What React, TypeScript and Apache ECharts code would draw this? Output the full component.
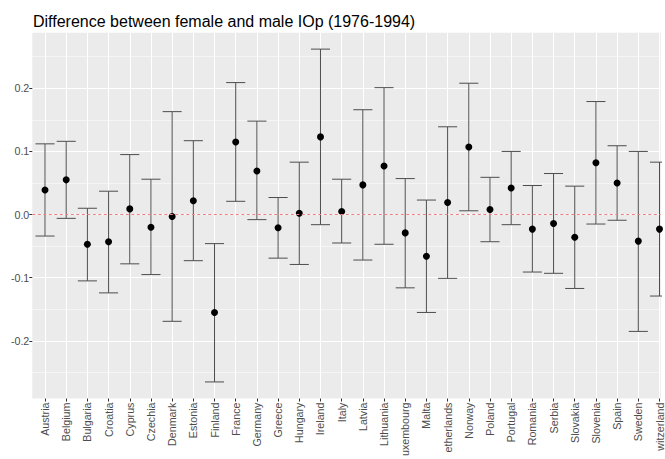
import React, { useEffect, useRef } from 'react';
import * as echarts from 'echarts';

const countries = ['Austria', 'Belgium', 'Bulgaria', 'Croatia', 'Cyprus', 'Czechia', 'Denmark', 'Estonia', 'Finland', 'France', 'Germany', 'Greece', 'Hungary', 'Ireland', 'Italy', 'Latvia', 'Lithuania', 'Luxembourg', 'Malta', 'Netherlands', 'Norway', 'Poland', 'Portugal', 'Romania', 'Serbia', 'Slovakia', 'Slovenia', 'Spain', 'Sweden', 'Switzerland'];
const estimates = [0.039, 0.055, -0.047, -0.043, 0.009, -0.020, -0.003, 0.022, -0.155, 0.115, 0.069, -0.021, 0.002, 0.123, 0.005, 0.047, 0.077, -0.029, -0.066, 0.019, 0.107, 0.008, 0.042, -0.023, -0.014, -0.036, 0.082, 0.050, -0.042, -0.023];
const lower = [-0.034, -0.006, -0.105, -0.124, -0.078, -0.095, -0.169, -0.073, -0.265, 0.021, -0.008, -0.069, -0.079, -0.016, -0.045, -0.072, -0.047, -0.116, -0.155, -0.101, 0.006, -0.043, -0.016, -0.091, -0.093, -0.117, -0.015, -0.009, -0.185, -0.129];
const upper = [0.112, 0.116, 0.010, 0.037, 0.095, 0.056, 0.163, 0.117, -0.046, 0.209, 0.148, 0.027, 0.083, 0.262, 0.056, 0.166, 0.201, 0.057, 0.023, 0.139, 0.208, 0.059, 0.100, 0.046, 0.065, 0.045, 0.179, 0.109, 0.100, 0.083];
const yTicks = [-0.2, -0.1, 0, 0.1, 0.2];
const yMinor = [-0.25, -0.15, -0.05, 0.05, 0.15, 0.25];
const titleText = 'Difference between female and male IOp (1976-1994)';

const FONT = '"Liberation Sans", Arial, sans-serif';
const LABEL_SIZE = 10.7;

// layout (pixels)
const W = 665;
const H = 459;
const GRID_LEFT = 32.3;
const GRID_TOP = 32.7;
const GRID_H = 366.6;
const UNIT_PX = 21.331; // one category step
const X_MIN = -0.6;
const LABEL_MARGIN = 4;
const TICK_LEN = 3;

let measureCtx: CanvasRenderingContext2D | null = null;
function textWidth(s: string): number {
  if (!measureCtx) {
    const c = document.createElement('canvas');
    measureCtx = c.getContext('2d');
  }
  if (!measureCtx) return s.length * LABEL_SIZE * 0.55;
  measureCtx.font = `${LABEL_SIZE}px "Liberation Sans", Arial, sans-serif`;
  return measureCtx.measureText(s).width;
}

// the page edge cuts off the start of long rotated labels (as in the original picture)
function fitLabel(name: string): string {
  const avail = H - (GRID_TOP + GRID_H + LABEL_MARGIN) - 1;
  let s = name;
  while (s.length > 1 && textWidth(s) > avail) s = s.slice(1);
  return s;
}

export default function App() {
  const ref = useRef<HTMLDivElement>(null);
  useEffect(() => {
    if (!ref.current) return;
    document.body.style.margin = '0';
    document.body.style.overflow = 'hidden';
    const chart = echarts.init(ref.current, null, { renderer: 'svg' });
    const idx = countries.map((_, i) => i);
    const gridW = W - GRID_LEFT;
    const xMax = X_MIN + gridW / UNIT_PX;
    const yMin = -0.2913;
    const yMax = 0.288;
    chart.setOption({
      animation: false,
      backgroundColor: '#FFFFFF',
      title: {
        text: titleText,
        left: 33,
        top: 13,
        padding: 0,
        textStyle: { fontSize: 16, fontWeight: 'normal', color: '#000000', fontFamily: FONT },
      },
      grid: {
        left: GRID_LEFT,
        top: GRID_TOP,
        width: gridW,
        height: GRID_H,
        show: true,
        backgroundColor: '#EBEBEB',
        borderWidth: 0,
        containLabel: false,
      },
      xAxis: {
        type: 'value',
        min: X_MIN,
        max: xMax,
        axisLine: { show: false, onZero: false },
        axisTick: { show: true, customValues: idx, length: TICK_LEN, lineStyle: { color: '#333333', width: 1 } },
        axisLabel: {
          customValues: idx,
          rotate: 90,
          margin: LABEL_MARGIN,
          color: '#4D4D4D',
          fontSize: LABEL_SIZE,
          fontFamily: FONT,
          formatter: (v: number) => fitLabel(countries[Math.round(v)] ?? ''),
        },
        splitLine: { show: true, lineStyle: { color: '#FFFFFF', width: 1.07 } },
      },
      yAxis: [
        {
          type: 'value',
          min: yMin,
          max: yMax,
          axisLine: { show: false, onZero: false },
          axisTick: { show: true, customValues: yTicks, length: TICK_LEN, lineStyle: { color: '#333333', width: 1 } },
          axisLabel: {
            customValues: yTicks,
            margin: 3,
            color: '#4D4D4D',
            fontSize: LABEL_SIZE,
            fontFamily: FONT,
            formatter: (v: number) => v.toFixed(1),
          },
          splitLine: { show: true, lineStyle: { color: '#FFFFFF', width: 1.07 } },
        },
        {
          type: 'value',
          min: yMin,
          max: yMax,
          position: 'left',
          axisLine: { show: false, onZero: false },
          axisTick: { show: false, customValues: yMinor },
          axisLabel: { show: false, customValues: yMinor },
          splitLine: { show: true, lineStyle: { color: '#FFFFFF', width: 0.53 } },
        },
      ],
      series: [
        {
          type: 'scatter',
          xAxisIndex: 0,
          yAxisIndex: 0,
          z: 1,
          symbolSize: 0,
          data: [],
          markLine: {
            silent: true,
            symbol: 'none',
            animation: false,
            label: { show: false },
            lineStyle: { color: '#F28080', type: [3, 2.5], width: 1, opacity: 1 },
            emphasis: { disabled: true },
            data: [{ yAxis: 0 }],
          },
        },
        {
          type: 'custom',
          xAxisIndex: 0,
          yAxisIndex: 0,
          clip: true,
          data: idx.map((i) => [i, lower[i], upper[i]]),
          encode: { x: 0, y: [1, 2] },
          z: 2,
          renderItem: (params: any, api: any) => {
            const x = api.value(0);
            const lo = api.coord([x, api.value(1)]);
            const hi = api.coord([x, api.value(2)]);
            const hw = api.size([0.9, 0])[0] / 2;
            const style = { stroke: '#4D4D4D', lineWidth: 1, fill: 'none' };
            return {
              type: 'group',
              children: [
                { type: 'line', shape: { x1: lo[0], y1: lo[1], x2: hi[0], y2: hi[1] }, style },
                { type: 'line', shape: { x1: lo[0] - hw, y1: lo[1], x2: lo[0] + hw, y2: lo[1] }, style },
                { type: 'line', shape: { x1: hi[0] - hw, y1: hi[1], x2: hi[0] + hw, y2: hi[1] }, style },
              ],
            };
          },
        },
        {
          type: 'scatter',
          xAxisIndex: 0,
          yAxisIndex: 0,
          z: 3,
          clip: true,
          symbolSize: 7,
          itemStyle: { color: '#000000', opacity: 1 },
          data: idx.map((i) => [i, estimates[i]]),
        },
      ],
    });
    return () => chart.dispose();
  }, []);
  return (
    <div
      ref={ref}
      style={{ position: 'absolute', left: 0, top: 0, width: W, height: H, overflow: 'hidden' }}
    />
  );
}
